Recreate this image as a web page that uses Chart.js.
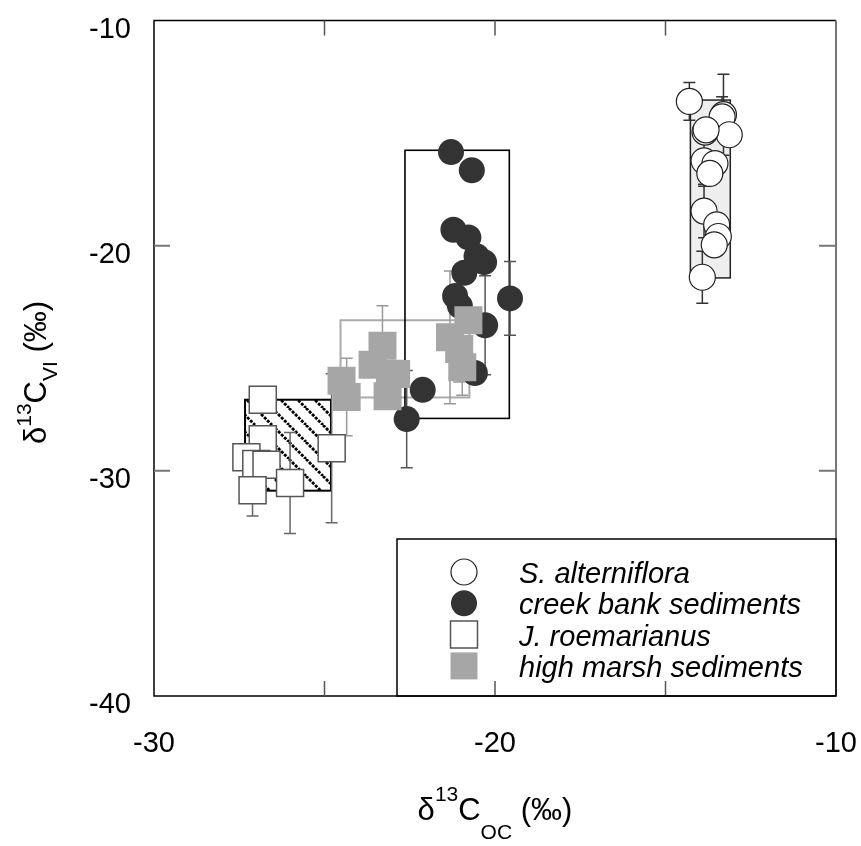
<!DOCTYPE html>
<html><head><meta charset="utf-8">
<script src="https://cdn.jsdelivr.net/npm/chart.js@4.4.0/dist/chart.umd.min.js"></script>
<style>html,body{margin:0;padding:0;background:#fff;}#wrap{width:861px;height:846px;}</style>
</head><body><div id="wrap"><canvas id="c" width="861" height="846"></canvas></div>
<script>
// ---- data ----
const seriesLabels = ['S. alterniflora', 'creek bank sediments', 'J. roemarianus', 'high marsh sediments'];

const saX   = [-14.30, -13.30, -13.34, -13.13, -13.84, -13.81, -13.87, -13.55, -13.70, -13.87, -13.50, -13.45, -13.57, -13.92];
const saY   = [-13.59, -14.18, -14.28, -15.07, -14.95, -14.85, -16.23, -16.35, -16.79, -18.46, -19.07, -19.59, -19.96, -21.40];
const saErr = [0.84, 1.80, 0.90, 0, 0, 0, 1.13, 0, 0, 1.19, 0, 0, 0, 1.15];

const cbX   = [-21.29, -20.68, -21.22, -20.78, -20.54, -20.32, -20.90, -21.17, -21.03, -19.56, -20.29, -20.59, -22.12, -22.59];
const cbY   = [-15.84, -16.65, -19.29, -19.63, -20.47, -20.73, -21.20, -22.23, -22.67, -22.34, -23.53, -25.65, -26.40, -27.70];
const cbErr = [0, 0, 0, 0, 0, 0, 0, 0, 0, 1.64, 2.20, 0, 0, 2.16];

const jrX   = [-26.81, -26.81, -27.29, -27.00, -26.70, -27.11, -26.01, -24.79];
const jrY   = [-26.84, -28.60, -29.40, -29.70, -29.73, -30.86, -30.54, -29.00];
const jrErr = [0, 0, 0, 0, 0, 1.15, 2.24, 3.31];

const hmX   = [-24.50, -24.35, -23.30, -23.59, -23.08, -22.90, -23.15, -21.32, -20.78, -21.05, -20.96];
const hmY   = [-26.00, -26.72, -24.44, -25.29, -25.69, -25.70, -26.69, -24.07, -23.31, -24.59, -25.40];
const hmErr = [0, 1.72, 1.77, 0, 0, 0, 0, 2.95, 0, 1.46, 1.24];

// group range boxes: [xmin, xmax, ymin, ymax]
const saBox = [-14.27, -13.10, -21.43, -13.53];
const cbBox = [-22.64, -19.58, -27.67, -15.76];
const hmBox = [-24.53, -20.75, -26.74, -23.31];
const jrBox = [-27.33, -24.81, -30.88, -26.84];

const xRange = [-30, -10];
const yRange = [-40, -10];
const xTickStep = 10;
const yTickStep = 10;
const xMinorTicks = [-25, -20, -15];
const yMinorTicks = [-20, -30];

// ---- rendering ----
const FAM = '"Liberation Sans", Arial, Helvetica, sans-serif';
Chart.defaults.font.family = FAM;
Chart.defaults.color = '#000';

const pts = (X, Y) => X.map((v, i) => ({x: v, y: Y[i]}));

function makeHatch(ctx) {
  const s = 17, c = document.createElement('canvas');
  c.width = s; c.height = s;
  const g = c.getContext('2d');
  g.strokeStyle = '#000'; g.lineWidth = 2.8; g.setLineDash([3, 1.3]);
  for (const k of [-1, 0, 1]) { g.beginPath(); g.moveTo(k * s, 0); g.lineTo(k * s + s, s); g.stroke(); }
  return ctx.createPattern(c, 'repeat');
}

const underlay = {
  id: 'underlay',
  beforeDatasetsDraw(chart) {
    const {ctx, scales: {x, y}} = chart;
    const R = b => {
      const l = x.getPixelForValue(b[0]), r = x.getPixelForValue(b[1]);
      const t = y.getPixelForValue(b[3]), bt = y.getPixelForValue(b[2]);
      return [l, t, r - l, bt - t];
    };
    ctx.save();
    let r = R(saBox);
    ctx.fillStyle = '#eeeeee'; ctx.fillRect(...r);
    ctx.strokeStyle = '#222'; ctx.lineWidth = 1.5; ctx.strokeRect(...r);
    r = R(jrBox);
    ctx.fillStyle = '#fff'; ctx.fillRect(...r);
    ctx.fillStyle = makeHatch(ctx); ctx.fillRect(...r);
    ctx.strokeStyle = '#000'; ctx.lineWidth = 2; ctx.strokeRect(...r);
    r = R(hmBox);
    ctx.strokeStyle = '#aaaaaa'; ctx.lineWidth = 2; ctx.strokeRect(...r);
    r = R(cbBox);
    ctx.strokeStyle = '#000'; ctx.lineWidth = 1.6; ctx.strokeRect(...r);

    const bars = (X, Y, E, col) => {
      ctx.strokeStyle = col; ctx.lineWidth = 1.5;
      X.forEach((vx, i) => {
        if (!E[i]) return;
        const px = x.getPixelForValue(vx);
        const t = y.getPixelForValue(Y[i] + E[i]), b = y.getPixelForValue(Y[i] - E[i]);
        ctx.beginPath();
        ctx.moveTo(px, t); ctx.lineTo(px, b);
        ctx.moveTo(px - 6, t); ctx.lineTo(px + 6, t);
        ctx.moveTo(px - 6, b); ctx.lineTo(px + 6, b);
        ctx.stroke();
      });
    };
    bars(saX, saY, saErr, '#333');
    bars(cbX, cbY, cbErr, '#555');
    bars(jrX, jrY, jrErr, '#666');
    bars(hmX, hmY, hmErr, '#999');
    ctx.restore();
  }
};

const overlay = {
  id: 'overlay',
  afterDraw(chart) {
    const {ctx, chartArea: a, scales: {x, y}} = chart;
    ctx.save();
    // frame
    ctx.lineWidth = 1.5; ctx.strokeStyle = '#000';
    ctx.beginPath();
    ctx.moveTo(a.right, a.top); ctx.lineTo(a.left, a.top); ctx.lineTo(a.left, a.bottom); ctx.lineTo(a.right, a.bottom);
    ctx.stroke();
    ctx.strokeStyle = '#777'; ctx.lineWidth = 2;
    ctx.beginPath(); ctx.moveTo(a.right, a.top); ctx.lineTo(a.right, a.bottom); ctx.stroke();
    // inward ticks
    ctx.strokeStyle = '#555'; ctx.lineWidth = 1.5;
    xMinorTicks.forEach(v => {
      const px = x.getPixelForValue(v);
      ctx.beginPath();
      ctx.moveTo(px, a.bottom); ctx.lineTo(px, a.bottom - 15);
      ctx.moveTo(px, a.top); ctx.lineTo(px, a.top + 15);
      ctx.stroke();
    });
    ctx.strokeStyle = '#777'; ctx.lineWidth = 2;
    yMinorTicks.forEach(v => {
      const py = y.getPixelForValue(v);
      ctx.beginPath();
      ctx.moveTo(a.left, py); ctx.lineTo(a.left + 16, py);
      ctx.moveTo(a.right, py); ctx.lineTo(a.right - 17, py);
      ctx.stroke();
    });

    // legend
    const lx = a.right - 439, ly = a.bottom - 157;
    ctx.strokeStyle = '#000'; ctx.lineWidth = 1.5;
    ctx.strokeRect(lx, ly, a.right - lx, a.bottom - ly);
    const ds = chart.data.datasets;
    [0, 1, 2, 3].forEach((di, k) => {
      const d = ds[di];
      const base = ly + 44 + k * 31.3;
      const mx = lx + 67, my = base - 11;
      ctx.lineWidth = d.borderWidth || 0;
      ctx.fillStyle = d.backgroundColor; ctx.strokeStyle = d.borderColor;
      ctx.beginPath();
      if (d.pointStyle === 'circle') {
        ctx.arc(mx, my, 13, 0, Math.PI * 2);
      } else {
        ctx.rect(mx - 13.5, my - 13.5, 27, 27);
      }
      ctx.fill();
      if (d.borderWidth) ctx.stroke();
      ctx.fillStyle = '#000';
      ctx.font = 'italic 29px ' + FAM;
      ctx.textBaseline = 'alphabetic'; ctx.textAlign = 'left';
      ctx.fillText(d.label, lx + 122, base);
    });

    // axis titles
    const main = '31px ' + FAM, sub = '21px ' + FAM;
    const drawRich = (parts, cx, baseY) => {
      let total = 0;
      parts.forEach(p => { ctx.font = p[1]; total += ctx.measureText(p[0]).width; });
      let cur = cx - total / 2;
      ctx.textAlign = 'left'; ctx.textBaseline = 'alphabetic'; ctx.fillStyle = '#000';
      parts.forEach(p => { ctx.font = p[1]; ctx.fillText(p[0], cur, baseY + p[2]); cur += ctx.measureText(p[0]).width; });
    };
    drawRich([['δ', main, 0], ['13', sub, -19], ['C', main, 0], ['OC', sub, 19], [' (‰)', main, 0]], (a.left + a.right) / 2, 820);
    ctx.save();
    ctx.translate(46, 372.5);
    ctx.rotate(-Math.PI / 2);
    drawRich([['δ', main, 0], ['13', sub, -15], ['C', main, 0], ['VI', sub, 10.5], [' (‰)', main, 0]], 0, 0);
    ctx.restore();
    ctx.restore();
  }
};

const zeroPad = s => { s.paddingLeft = 0; s.paddingRight = 0; s.paddingTop = 0; s.paddingBottom = 0; };

new Chart(document.getElementById('c'), {
  type: 'scatter',
  data: {
    datasets: [
      {label: seriesLabels[0], data: pts(saX, saY), pointStyle: 'circle', pointRadius: 13, backgroundColor: '#ffffff', borderColor: '#222222', borderWidth: 1.2, order: 3},
      {label: seriesLabels[1], data: pts(cbX, cbY), pointStyle: 'circle', pointRadius: 13, backgroundColor: '#333333', borderColor: '#333333', borderWidth: 0, order: 4},
      {label: seriesLabels[2], data: pts(jrX, jrY), pointStyle: 'rect', pointRadius: 19.1, backgroundColor: '#ffffff', borderColor: '#555555', borderWidth: 1.5, order: 2},
      {label: seriesLabels[3], data: pts(hmX, hmY), pointStyle: 'rect', pointRadius: 19.8, backgroundColor: '#a6a6a6', borderColor: '#a6a6a6', borderWidth: 0, order: 1}
    ]
  },
  options: {
    responsive: false,
    animation: false,
    devicePixelRatio: 1,
    layout: {padding: {top: 16, right: 25, left: 0, bottom: 0}},
    plugins: {legend: {display: false}, tooltip: {enabled: false}},
    elements: {point: {hoverRadius: 13}},
    scales: {
      x: {
        type: 'linear', position: 'bottom', min: xRange[0], max: xRange[1],
        grid: {display: false, drawTicks: false}, border: {display: false},
        ticks: {stepSize: xTickStep, padding: 33, font: {size: 29, lineHeight: 1}, color: '#000'},
        afterFit: s => { s.height = 150; zeroPad(s); }
      },
      y: {
        type: 'linear', position: 'left', min: yRange[0], max: yRange[1],
        grid: {display: false, drawTicks: false}, border: {display: false},
        ticks: {stepSize: yTickStep, padding: 23, labelOffset: 9, font: {size: 29, lineHeight: 1}, color: '#000'},
        afterFit: s => { s.width = 154; zeroPad(s); }
      }
    }
  },
  plugins: [underlay, overlay]
});
</script>
</body></html>
